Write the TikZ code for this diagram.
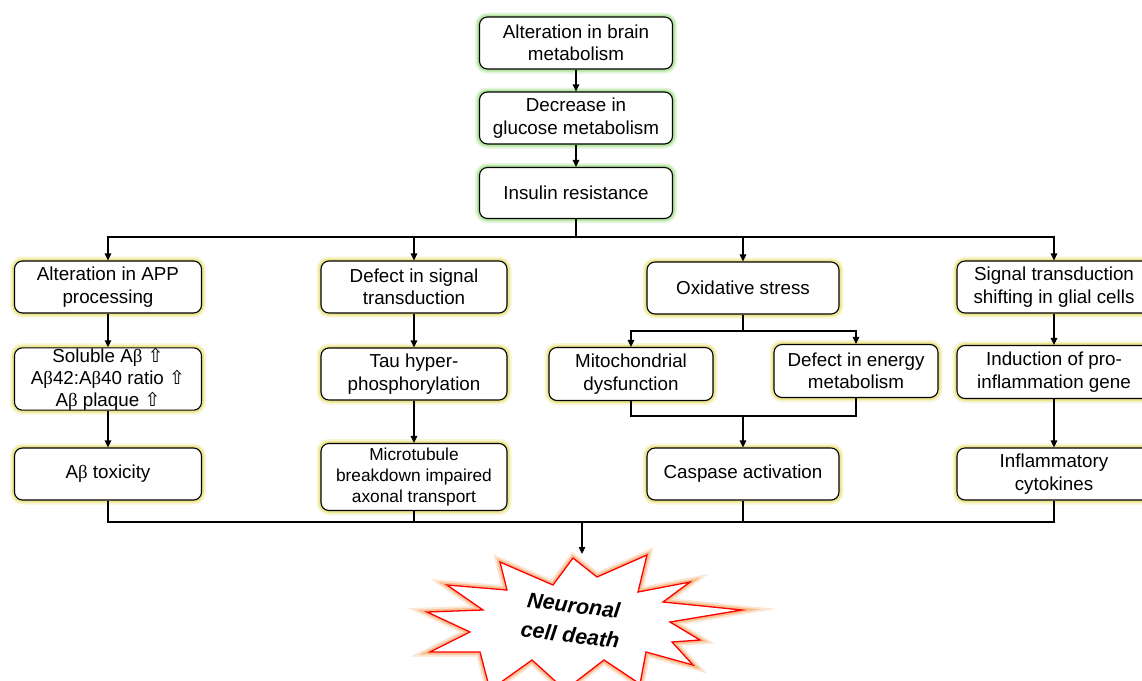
\documentclass[tikz,border=0pt]{standalone}
\usepackage{fontspec}
\setmainfont{Liberation Sans}
\newfontfamily\grk{Liberation Serif}
\newfontfamily\dv{DejaVu Sans}
\usetikzlibrary{arrows.meta,calc}
\definecolor{glowY}{HTML}{E2D955}
\definecolor{glowG}{HTML}{8FD873}
\definecolor{glowR}{HTML}{F59A50}
\newcommand{\Ab}{A{\grk β}}
\newcommand{\upa}{{\dv\fontsize{19}{19}\selectfont ⇧}}
\begin{document}
\begin{tikzpicture}[x=1pt,y=-1pt,
  box/.style={draw=black, rounded corners=8pt, fill=white, line width=1.1pt, align=center,
    inner sep=0pt, font=\fontsize{18.8}{22.5}\selectfont},
  yglow/.style={preaction={draw=glowY, line width=9pt, opacity=0.25},
                preaction={draw=glowY, line width=5pt, opacity=0.55}},
  gglow/.style={preaction={draw=glowG, line width=9pt, opacity=0.25},
                preaction={draw=glowG, line width=5pt, opacity=0.55}},
  arr/.style={line width=1.3pt, -{Triangle[length=7pt,width=6.5pt]}},
  ln/.style={line width=1.3pt}]
\useasboundingbox (0,0) rectangle (1142,680);
\fill[white] (0,0) rectangle (1142,680);

% top column
\node[box,gglow,minimum width=193pt,minimum height=52pt] (T1) at (576,43) {Alteration in brain\\metabolism};
\node[box,gglow,minimum width=193pt,minimum height=52pt] (T2) at (576,118) {Decrease in\\glucose metabolism};
\node[box,gglow,minimum width=193pt,minimum height=51pt] (T3) at (576,193) {Insulin resistance};

% row 1
\node[box,yglow,minimum width=187pt,minimum height=52pt] (A1) at (108,287) {Alteration in APP\\processing};
\node[box,yglow,minimum width=186pt,minimum height=52pt] (B1) at (414,287) {Defect in signal\\transduction};
\node[box,yglow,minimum width=192pt,minimum height=52pt] (C1) at (743,288) {Oxidative stress};
\node[box,yglow,minimum width=194pt,minimum height=52pt] (D1) at (1054,287) {Signal transduction\\shifting in glial cells};

% row 2
\node[box,yglow,minimum width=187pt,minimum height=62pt,font=\fontsize{18.8}{22}\selectfont] (A2) at (108,379) {Soluble \Ab{} \upa\\\Ab42:\Ab40 ratio \upa\\\Ab{} plaque \upa};
\node[box,yglow,minimum width=186pt,minimum height=52pt] (B2) at (414,374) {Tau hyper-\\phosphorylation};
\node[box,yglow,minimum width=164pt,minimum height=53pt] (C2a) at (631,374) {Mitochondrial\\dysfunction};
\node[box,yglow,minimum width=164pt,minimum height=53pt] (C2b) at (856,371) {Defect in energy\\metabolism};
\node[box,yglow,minimum width=194pt,minimum height=53pt] (D2) at (1054,372) {Induction of pro-\\inflammation gene};

% row 3
\node[box,yglow,minimum width=187pt,minimum height=52pt] (A3) at (108,474) {\Ab{} toxicity};
\node[box,yglow,minimum width=186pt,minimum height=67pt,font=\fontsize{17.3}{21}\selectfont] (B3) at (414,477) {Microtubule\\breakdown impaired\\axonal transport};
\node[box,yglow,minimum width=192pt,minimum height=52pt] (C3) at (743,474) {Caspase activation};
\node[box,yglow,minimum width=194pt,minimum height=52pt] (D3) at (1054,474) {Inflammatory\\cytokines};

% top connectors
\draw[arr] (T1) -- (T2);
\draw[arr] (T2) -- (T3);
\coordinate (split) at (576,237);
\draw[ln] (T3.south) -- (split);
\draw[arr] (split) -| (A1.north);
\draw[arr] (split) -| (B1.north);
\draw[arr] (split) -| (C1.north);
\draw[arr] (split) -| (D1.north);

% column arrows
\draw[arr] (A1) -- (A2);
\draw[arr] (A2) -- (A3);
\draw[arr] (B1) -- (B2);
\draw[arr] (B2) -- (B3);
\draw[arr] (D1) -- (D2);
\draw[arr] (D2) -- (D3);

% oxidative branch
\coordinate (cs) at (743,331);
\draw[ln] (C1.south) -- (cs);
\draw[arr] (cs) -| (C2a.north);
\draw[arr] (cs) -| (C2b.north);
\coordinate (cm) at (743,416);
\draw[ln] (C2a.south) |- (cm);
\draw[ln] (C2b.south) |- (cm);
\draw[arr] (cm) -- (C3.north);

% bottom merge
\coordinate (bm) at (582,522);
\coordinate (burst) at (582,554);
\draw[ln] (A3.south) |- (bm);
\draw[ln] (D3.south) |- (bm);
\draw[ln] (B3.south) -- (B3.south |- bm);
\draw[ln] (C3.south) -- (C3.south |- bm);
\draw[arr] (bm) -- (burst);

% starburst
\path[draw=red, line width=1.3pt, fill=white, line join=miter,
  preaction={draw=glowR, line width=9pt, opacity=0.25},
  preaction={draw=glowR, line width=5pt, opacity=0.5}]
  (427,612) -- (483,610) -- (447,585) -- (507,590) -- (500,562) -- (553,585)
  -- (573,558) -- (597,577) -- (647,555) -- (638,592) -- (690,582) -- (663,602)
  -- (742,610) -- (670,622) -- (700,640) -- (672,642) -- (693,665) -- (646,652)
  -- (640,684) -- (604,660) -- (565,690) -- (532,660) -- (490,690) -- (480,652)
  -- (430,652) -- (470,632) -- cycle;
\node[font=\fontsize{21.5}{30}\selectfont\bfseries\itshape, align=center, rotate=-7] (death) at (572,620) {Neuronal\\cell death};
\end{tikzpicture}
\end{document}
